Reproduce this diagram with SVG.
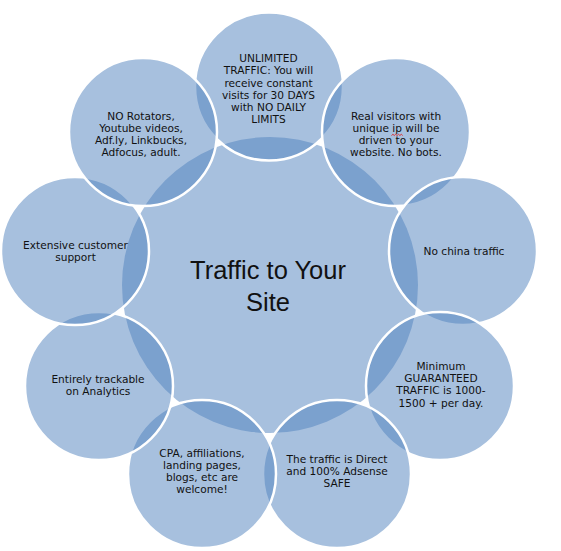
<svg xmlns="http://www.w3.org/2000/svg" width="561" height="551" viewBox="0 0 561 551">
<style>
.c{fill:#4F81BD;fill-opacity:0.5;stroke:#FFFFFF;stroke-width:2.5}
.hub{fill:#4F81BD;fill-opacity:0.5;stroke:none}
.t{font-family:"DejaVu Sans",Verdana,sans-serif;font-size:10.6px;fill:#111;text-anchor:middle}
.h{font-family:"Liberation Sans",Arial,sans-serif;font-size:25.5px;fill:#111;text-anchor:middle}
</style>
<rect width="561" height="551" fill="#FFFFFF"/>
<g id="hub">
<circle class="hub" cx="270" cy="285" r="148"/>
<text class="h" x="268" y="279">Traffic to Your</text>
<text class="h" x="268" y="310.5">Site</text>
</g>
<g id="n1">
<circle class="c" cx="269" cy="86.5" r="74"/>
<text class="t"><tspan x="268.5" y="61.5">UNLIMITED</tspan><tspan x="268.5" y="74">TRAFFIC: You will</tspan><tspan x="268.5" y="86.5">receive constant</tspan><tspan x="268.5" y="99">visits for 30 DAYS</tspan><tspan x="268.5" y="111">with NO DAILY</tspan><tspan x="268.5" y="123">LIMITS</tspan></text>
</g>
<g id="n2">
<circle class="c" cx="396" cy="132" r="74"/>
<text class="t"><tspan x="396" y="120">Real visitors with</tspan><tspan x="396" y="132">unique ip will be</tspan><tspan x="396" y="144">driven to your</tspan><tspan x="396" y="156">website. No bots.</tspan></text>
<path d="M391.5,135.5 l1.4,-1.2 1.4,1.2 1.4,-1.2 1.4,1.2 1.4,-1.2 1.4,1.2 1.4,-1.2 1.4,1.2" fill="none" stroke="#E02020" stroke-width="0.9"/>
</g>
<g id="n3">
<circle class="c" cx="463" cy="251" r="74"/>
<text class="t" x="464" y="255">No china traffic</text>
</g>
<g id="n4">
<circle class="c" cx="440" cy="386" r="74"/>
<text class="t"><tspan x="441" y="369.5">Minimum</tspan><tspan x="441" y="382">GUARANTEED</tspan><tspan x="441" y="394.3">TRAFFIC is 1000-</tspan><tspan x="441" y="406.7">1500 + per day.</tspan></text>
</g>
<g id="n5">
<circle class="c" cx="337" cy="474" r="74"/>
<text class="t"><tspan x="337" y="463.3">The traffic is Direct</tspan><tspan x="337" y="475.3">and 100% Adsense</tspan><tspan x="337" y="487.3">SAFE</tspan></text>
</g>
<g id="n6">
<circle class="c" cx="202" cy="474" r="74"/>
<text class="t"><tspan x="202" y="456.7">CPA, affiliations,</tspan><tspan x="202" y="468.9">landing pages,</tspan><tspan x="202" y="481.1">blogs, etc are</tspan><tspan x="202" y="493.3">welcome!</tspan></text>
</g>
<g id="n7">
<circle class="c" cx="99" cy="386" r="74"/>
<text class="t"><tspan x="98" y="382.5">Entirely trackable</tspan><tspan x="98" y="394.5">on Analytics</tspan></text>
</g>
<g id="n8">
<circle class="c" cx="75" cy="251" r="74"/>
<text class="t"><tspan x="75.5" y="249">Extensive customer</tspan><tspan x="75.5" y="261">support</tspan></text>
</g>
<g id="n9">
<circle class="c" cx="143" cy="132" r="74"/>
<text class="t"><tspan x="141" y="120">NO Rotators,</tspan><tspan x="141" y="132">Youtube videos,</tspan><tspan x="141" y="144">Adf.ly, Linkbucks,</tspan><tspan x="141" y="156">Adfocus, adult.</tspan></text>
</g>
<g id="connectors"></g>
</svg>
